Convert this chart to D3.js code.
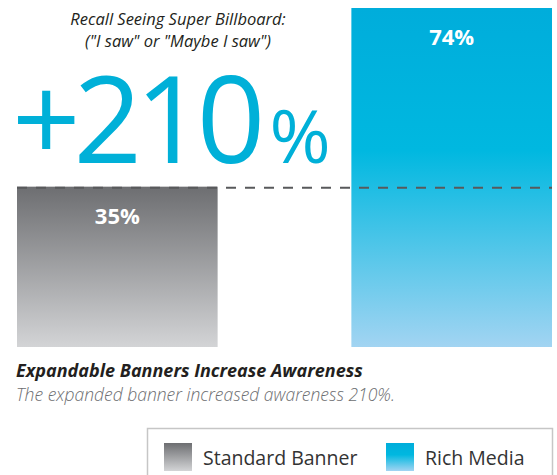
<!DOCTYPE html>
<html>
<head>
<meta charset="utf-8">
<script src="https://cdn.jsdelivr.net/npm/d3@7"></script>
<style>
  body { margin: 0; background: #fff; }
  svg { display: block; font-family: "Open Sans", "Noto Sans", sans-serif; }
</style>
</head>
<body>
<div id="chart"></div>
<script>
let svgWidth = 557;
let svgHeight = 475;

// data
let categories = ["Standard Banner", "Rich Media"];
let values = [35, 74];
let valueLabels = ["35%", "74%"];
let liftLabel = "+210";
let titleLines = ["Recall Seeing Super Billboard:", "(\"I saw\" or \"Maybe I saw\")"];
let headline = "Expandable Banners Increase Awareness";
let subline = "The expanded banner increased awareness 210%.";

let svg = d3.select("#chart")
  .append("svg")
  .attr("width", svgWidth)
  .attr("height", svgHeight);

// gradients for the bars and swatches
let defs = svg.append("defs");
let grayGrad = defs.append("linearGradient")
  .attr("id", "grayGrad").attr("x1", 0).attr("y1", 0).attr("x2", 0).attr("y2", 1);
grayGrad.append("stop").attr("offset", "0%").attr("stop-color", "#6d6e71");
grayGrad.append("stop").attr("offset", "100%").attr("stop-color", "#d3d4d6");

let blueGrad = defs.append("linearGradient")
  .attr("id", "blueGrad").attr("x1", 0).attr("y1", 0).attr("x2", 0).attr("y2", 1);
blueGrad.append("stop").attr("offset", "0%").attr("stop-color", "#00addb");
blueGrad.append("stop").attr("offset", "42%").attr("stop-color", "#00b8e0");
blueGrad.append("stop").attr("offset", "100%").attr("stop-color", "#a2d4f2");

let fills = ["url(#grayGrad)", "url(#blueGrad)"];

// scales
let xScale = d3.scaleBand()
  .domain(categories)
  .range([17, 552])
  .paddingInner(0.4)
  .paddingOuter(0);

let yScale = d3.scaleLinear()
  .domain([0, 74])
  .range([347, 8]);

// bars
svg.selectAll("rect.bar")
  .data(values)
  .enter()
  .append("rect")
  .attr("class", "bar")
  .attr("x", (d, i) => xScale(categories[i]))
  .attr("y", d => yScale(d))
  .attr("width", xScale.bandwidth())
  .attr("height", d => yScale(0) - yScale(d))
  .attr("fill", (d, i) => fills[i]);

// value labels inside bars
svg.selectAll("text.val")
  .data(values)
  .enter()
  .append("text")
  .attr("class", "val")
  .attr("x", (d, i) => xScale(categories[i]) + xScale.bandwidth() / 2)
  .attr("y", d => yScale(d) + 37)
  .attr("text-anchor", "middle")
  .attr("font-size", "22px")
  .attr("font-weight", "bold")
  .attr("fill", "#fff")
  .text((d, i) => valueLabels[i]);

// dashed reference line at the standard banner level
svg.append("line")
  .attr("x1", xScale.range()[0])
  .attr("x2", xScale.range()[1])
  .attr("y1", yScale(values[0]) + 1)
  .attr("y2", yScale(values[0]) + 1)
  .attr("stroke", "#58595b")
  .attr("stroke-width", 2)
  .attr("stroke-dasharray", "10,9");

// title above the gray bar
svg.selectAll("text.title")
  .data(titleLines)
  .enter()
  .append("text")
  .attr("class", "title")
  .attr("x", 178)
  .attr("y", (d, i) => 25 + i * 22)
  .attr("text-anchor", "middle")
  .attr("font-size", "16.5px")
  .attr("font-style", "italic")
  .attr("fill", "#231f20")
  .text(d => d);

// big lift number
let big = svg.append("text")
  .attr("x", 12)
  .attr("y", 163)
  .attr("fill", "#00b0d8")
  .attr("font-weight", 500);
big.append("tspan")
  .attr("font-size", "120px")
  .attr("letter-spacing", "-7px")
  .text(liftLabel);
big.append("tspan")
  .attr("font-size", "74px")
  .attr("dx", "11")
  .text("%");

// caption
svg.append("text")
  .attr("x", 16)
  .attr("y", 377)
  .attr("font-size", "18px")
  .attr("font-weight", "bold")
  .attr("font-style", "italic")
  .attr("fill", "#231f20")
  .text(headline);

svg.append("text")
  .attr("x", 16)
  .attr("y", 401)
  .attr("font-size", "17.5px")
  .attr("font-style", "italic")
  .attr("font-weight", 300)
  .attr("fill", "#6d6e71")
  .text(subline);

// legend
let legend = svg.append("g");
legend.append("rect")
  .attr("x", 147.5)
  .attr("y", 428.5)
  .attr("width", 405)
  .attr("height", 60)
  .attr("fill", "none")
  .attr("stroke", "#c6c6c6")
  .attr("stroke-width", 1.5);

let legendX = [164, 386];
let legendItems = legend.selectAll("g.item")
  .data(categories)
  .enter()
  .append("g")
  .attr("class", "item")
  .attr("transform", (d, i) => `translate(${legendX[i]}, 443)`);

legendItems.append("rect")
  .attr("width", 28)
  .attr("height", 28)
  .attr("fill", (d, i) => fills[i]);

legendItems.append("text")
  .attr("x", 39)
  .attr("y", 22)
  .attr("font-size", "19.5px")
  .attr("fill", "#333")
  .text(d => d);
</script>
</body>
</html>
